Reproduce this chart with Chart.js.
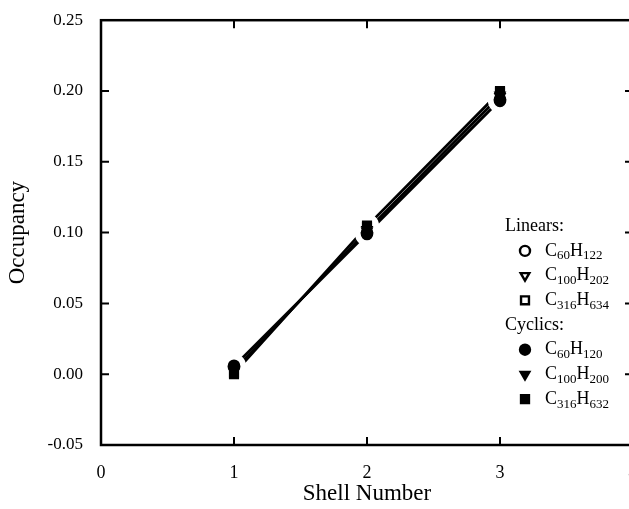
<!DOCTYPE html>
<html>
<head>
<meta charset="utf-8">
<script src="https://cdn.jsdelivr.net/npm/chart.js@4/dist/chart.umd.min.js"></script>
<style>
  html, body { margin: 0; padding: 0; background: #fff; overflow: hidden; }
  #wrap { width: 629px; height: 509px; overflow: hidden; }
</style>
</head>
<body>
<div id="wrap"><canvas id="chart" width="660" height="509"></canvas></div>
<script>
const shells = [1, 2, 3]

const linC60H122 = [0.005, 0.099, 0.193]
const linC100H202 = [0.003, 0.101, 0.196]
const linC316H634 = [0.000, 0.104, 0.199]
const cycC60H120 = [0.006, 0.100, 0.194]
const cycC100H200 = [0.002, 0.102, 0.197]
const cycC316H632 = [0.001, 0.105, 0.200]

const xTicks = [0, 1, 2, 3, 4]
const yTicks = [-0.05, 0.00, 0.05, 0.10, 0.15, 0.20, 0.25]

const serif = "'Liberation Serif', 'DejaVu Serif', serif"

function makeSet(label, parts, values, style, filled, rot) {
    return {
        label: label,
        parts: parts,
        data: shells.map((s, i) => ({ x: s, y: values[i] })),
        showLine: true,
        borderColor: '#000',
        borderWidth: 1.8,
        pointStyle: style,
        pointRotation: rot || 0,
        pointRadius: style === 'rect' ? 5.6 : 5.2,
        pointBorderWidth: 2.2,
        pointBorderColor: '#000',
        pointBackgroundColor: filled ? '#000' : '#fff',
        filled: filled
    }
}

const datasets = [
    makeSet('C60H122', ['C', '60', 'H', '122'], linC60H122, 'circle', false),
    makeSet('C100H202', ['C', '100', 'H', '202'], linC100H202, 'triangle', false, 180),
    makeSet('C316H634', ['C', '316', 'H', '634'], linC316H634, 'rect', false),
    makeSet('C60H120', ['C', '60', 'H', '120'], cycC60H120, 'circle', true),
    makeSet('C100H200', ['C', '100', 'H', '200'], cycC100H200, 'triangle', true, 180),
    makeSet('C316H632', ['C', '316', 'H', '632'], cycC316H632, 'rect', true)
]

// white gap round the markers, then markers again on top
const gapPlugin = {
    id: 'gap',
    afterDatasetsDraw(chart) {
        const ctx = chart.ctx
        ctx.save()
        ctx.fillStyle = '#fff'
        chart.data.datasets.forEach((ds, i) => {
            chart.getDatasetMeta(i).data.forEach(pt => {
                ctx.beginPath()
                ctx.arc(pt.x, pt.y, 12, 0, Math.PI * 2)
                ctx.fill()
            })
        })
        chart.data.datasets.forEach((ds, i) => {
            chart.getDatasetMeta(i).data.forEach(pt => pt.draw(ctx))
        })
        ctx.restore()
    }
}

// box and inward ticks on all four sides
const framePlugin = {
    id: 'frame',
    afterDraw(chart) {
        const ctx = chart.ctx
        const a = chart.chartArea
        const xs = chart.scales.x, ys = chart.scales.y
        ctx.save()
        ctx.strokeStyle = '#000'
        ctx.lineWidth = 2.5
        ctx.strokeRect(a.left, a.top, a.right - a.left, a.bottom - a.top)
        ctx.lineWidth = 2
        ctx.beginPath()
        xTicks.slice(1, -1).forEach(v => {
            const px = xs.getPixelForValue(v)
            ctx.moveTo(px, a.bottom); ctx.lineTo(px, a.bottom - 8)
            ctx.moveTo(px, a.top); ctx.lineTo(px, a.top + 8)
        })
        yTicks.slice(1, -1).forEach(v => {
            const py = ys.getPixelForValue(v)
            ctx.moveTo(a.left, py); ctx.lineTo(a.left + 8, py)
            ctx.moveTo(a.right, py); ctx.lineTo(a.right - 8, py)
        })
        ctx.stroke()
        ctx.restore()
    }
}

function drawFormula(ctx, parts, x, y) {
    let cx = x
    parts.forEach((p, i) => {
        const sub = i % 2 === 1
        ctx.font = (sub ? '13px ' : '18px ') + serif
        ctx.fillText(p, cx, sub ? y + 5 : y)
        cx += ctx.measureText(p).width
    })
}

const legendPlugin = {
    id: 'legendBox',
    afterDraw(chart) {
        const ctx = chart.ctx
        const a = chart.chartArea
        const left = a.left + 404
        const top = a.top + 206
        const row = 24.7
        ctx.save()
        ctx.fillStyle = '#000'
        ctx.textBaseline = 'middle'
        ctx.textAlign = 'left'
        ctx.font = '18px ' + serif
        ctx.fillText('Linears:', left, top)
        ctx.fillText('Cyclics:', left, top + row * 4)
        chart.data.datasets.forEach((ds, i) => {
            const y = top + row * (i + 1 + (i >= 3 ? 1 : 0))
            ctx.lineWidth = 2.4
            ctx.strokeStyle = '#000'
            ctx.fillStyle = ds.pointBackgroundColor
            Chart.helpers.drawPoint(ctx, {
                pointStyle: ds.pointStyle,
                rotation: ds.pointRotation,
                radius: ds.pointStyle === 'rect' ? 5.6 : 5,
                borderWidth: 2.4
            }, left + 20, y)
            ctx.fillStyle = '#000'
            drawFormula(ctx, ds.parts, left + 40, y)
        })
        ctx.restore()
    }
}

new Chart('chart', {
    type: 'scatter',
    data: { datasets: datasets },
    options: {
        responsive: false,
        animation: false,
        layout: { padding: { top: 19, right: 27, left: 0, bottom: 0 } },
        plugins: { legend: { display: false }, tooltip: { enabled: false } },
        scales: {
            x: {
                type: 'linear',
                min: 0,
                max: 4,
                afterFit: s => { s.height = 64 },
                afterBuildTicks: s => { s.ticks = xTicks.map(v => ({ value: v })) },
                grid: { display: false },
                border: { display: false },
                ticks: { color: '#000', padding: 9, font: { family: serif, size: 18 }, callback: v => String(v) },
                title: { display: true, text: 'Shell Number', color: '#000', font: { family: serif, size: 23 }, padding: { top: 0, bottom: 1 } }
            },
            y: {
                type: 'linear',
                min: -0.05,
                max: 0.25,
                afterFit: s => { s.width = 101 },
                afterBuildTicks: s => { s.ticks = yTicks.map(v => ({ value: v })) },
                grid: { display: false },
                border: { display: false },
                ticks: { color: '#000', padding: 10, font: { family: serif, size: 17 }, callback: v => v.toFixed(2) },
                title: { display: true, text: 'Occupancy', color: '#000', font: { family: serif, size: 23 }, padding: { top: 4, bottom: 0 } }
            }
        }
    },
    plugins: [gapPlugin, framePlugin, legendPlugin]
})
</script>
</body>
</html>
